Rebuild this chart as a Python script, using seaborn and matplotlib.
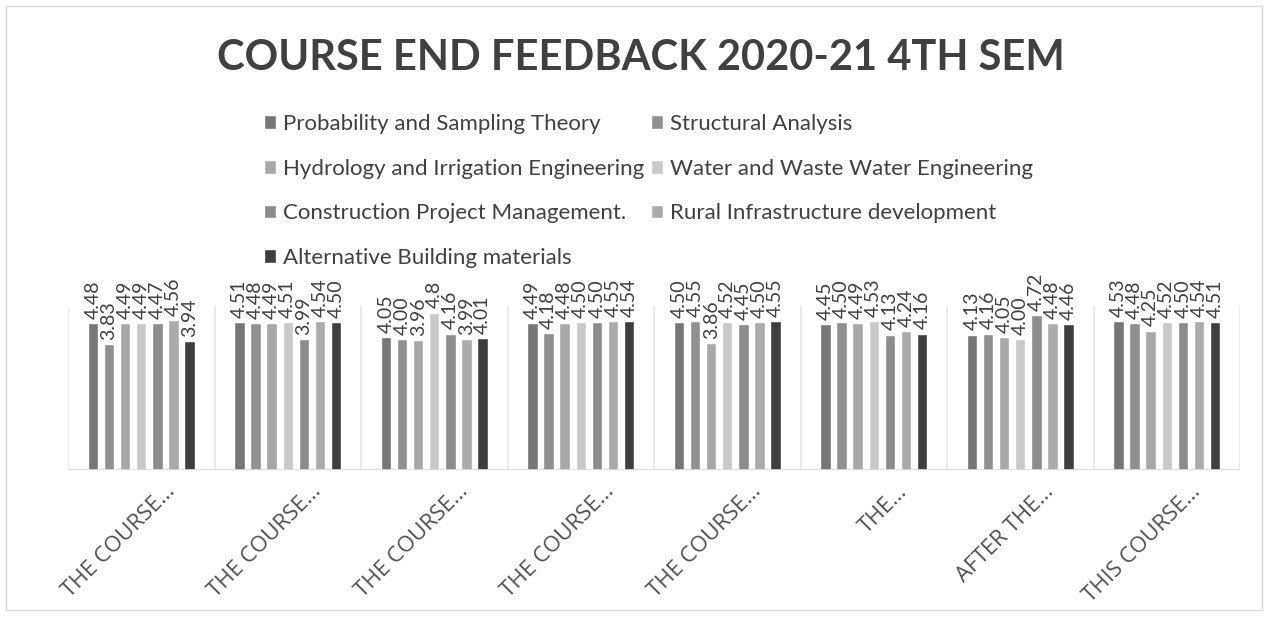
import pandas as pd
import seaborn as sns
import matplotlib.pyplot as plt
from matplotlib.patches import Rectangle
from matplotlib.transforms import ScaledTranslation

# questions (shortened as on the chart)
questions = ["THE COURSE…", "THE COURSE…", "THE COURSE…", "THE COURSE…",
             "THE COURSE…", "THE…", "AFTER THE…", "THIS COURSE…"]

subjects = ["Probability and Sampling Theory", "Structural Analysis",
            "Hydrology and Irrigation Engineering", "Water and Waste Water Engineering",
            "Construction Project Management.", "Rural Infrastructure development",
            "Alternative Building materials"]

# scores per subject, one per question (kept as text so labels show like the chart)
probability = ["4.48", "4.51", "4.05", "4.49", "4.50", "4.45", "4.13", "4.53"]
structural = ["3.83", "4.48", "4.00", "4.18", "4.55", "4.50", "4.16", "4.48"]
hydrology = ["4.49", "4.49", "3.96", "4.48", "3.86", "4.49", "4.05", "4.25"]
water = ["4.49", "4.51", "4.8", "4.50", "4.52", "4.53", "4.00", "4.52"]
construction = ["4.47", "3.99", "4.16", "4.50", "4.45", "4.13", "4.72", "4.50"]
rural = ["4.56", "4.54", "3.99", "4.55", "4.50", "4.24", "4.48", "4.54"]
alternative = ["3.94", "4.50", "4.01", "4.54", "4.55", "4.16", "4.46", "4.51"]

series = [probability, structural, hydrology, water, construction, rural, alternative]
colors = ["#767676", "#909090", "#a8a8a8", "#c9c9c9", "#8c8c8c", "#ababab", "#3e3e3e"]

rows = []
for subj, vals in zip(subjects, series):
    for i, v in enumerate(vals):
        rows.append({"pos": i, "subject": subj, "score": float(v)})
df = pd.DataFrame(rows)

sns.set_style("white")
plt.rcParams["font.family"] = ["Lato", "DejaVu Sans"]

fig = plt.figure(figsize=(12.7, 6.21), dpi=100)
ax = fig.add_axes([68 / 1270, 151 / 621, 1172 / 1270, 164 / 621])

sns.barplot(data=df, x="pos", y="score", hue="subject", hue_order=subjects,
            palette=colors, width=0.77, gap=0.35, ax=ax, saturation=1)

handles, labels = ax.get_legend_handles_labels()
ax.get_legend().remove()

for cont, vals in zip(ax.containers, series):
    ax.bar_label(cont, labels=vals, rotation=90, padding=3, fontsize=14,
                 color="#404040")

ax.set_ylim(0, 5)
ax.set_xlim(-0.5, len(questions) - 0.5)
for x in range(len(questions) + 1):
    ax.axvline(x - 0.5, color="#e6e6e6", lw=1.2, zorder=0)
ax.axhline(0, color="#d9d9d9", lw=1.2)
sns.despine(ax=ax, left=True, bottom=True, top=True, right=True)
ax.set_yticks([])
ax.set_xlabel("")
ax.set_ylabel("")

ax.set_xticks(range(len(questions)))
ax.set_xticklabels(questions, rotation=45, ha="right", va="top",
                   fontsize=16, family=["Open Sans", "DejaVu Sans"])
ax.tick_params(axis="x", length=0, pad=8, labelcolor="#505050")
shift = ScaledTranslation(38 / 100, 0, fig.dpi_scale_trans)
for lab in ax.get_xticklabels():
    lab.set_transform(lab.get_transform() + shift)

fig.text(0.505, 1 - 58 / 621, "COURSE END FEEDBACK 2020-21 4TH SEM",
         ha="center", va="center", fontsize=30, fontweight="bold", color="#404040")

order = [0, 2, 4, 6, 1, 3, 5]
fig.legend([handles[i] for i in order], [labels[i] for i in order],
           loc="upper left", bbox_to_anchor=(244 / 1270, 1 - 94 / 621),
           ncol=2, frameon=False, fontsize=16, labelcolor="#404040",
           handlelength=0.55, handleheight=0.55, handletextpad=0.3,
           labelspacing=1.11, columnspacing=0.3)

fig.patches.append(Rectangle((6 / 1270, 11 / 621), 1256 / 1270, 604 / 621,
                             transform=fig.transFigure, fill=False,
                             edgecolor="#d9d9d9", lw=1))

fig.savefig("out.png", dpi=100)
